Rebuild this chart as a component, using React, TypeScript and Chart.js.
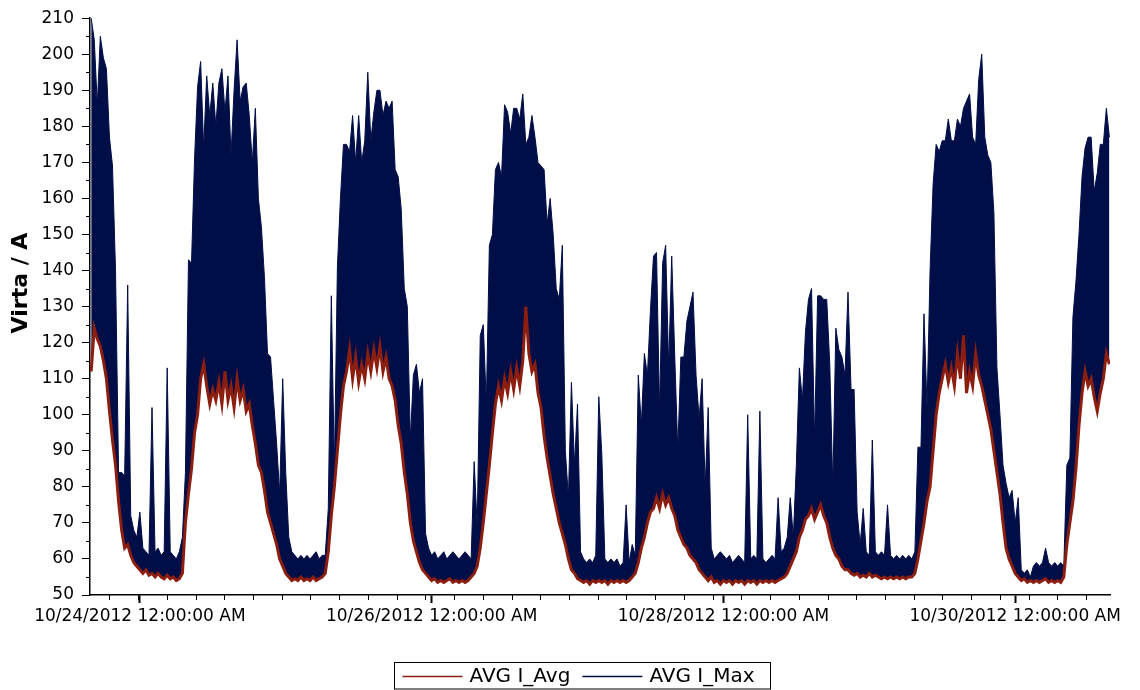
import React, { useEffect, useRef } from "react";
import { Chart, registerables } from "chart.js";

Chart.register(...registerables);

// ---- data (hours since 10/24/2012 00:00, sampled every 30 min) ----
const START_HOUR = -8;
const STEP_HOURS = 0.5;

const seriesLabels = ["AVG I_Avg", "AVG I_Max"];

const maxValues: number[] = [
  210, 204, 186, 205, 199, 196, 177, 169, 140, 84,
  84, 83, 136, 72, 68, 66, 73, 63, 62, 61,
  102, 62, 63, 61, 62, 113, 62, 61, 60, 62,
  66, 84, 143, 142, 171, 191, 198, 174, 194, 183,
  192, 180, 192, 196, 184, 194, 172, 190, 204, 187,
  191, 192, 183, 170, 185, 160, 152, 138, 117, 116,
  104, 92, 78, 110, 84, 66, 62, 61, 60, 61,
  60, 61, 60, 61, 62, 60, 61, 61, 74, 133,
  85, 141, 160, 175, 175, 173, 183, 170, 183, 170,
  176, 195, 176, 184, 190, 190, 183, 187, 185, 187,
  168, 166, 157, 135, 130, 93, 111, 114, 106, 110,
  67, 63, 61, 62, 60, 61, 62, 60, 61, 62,
  61, 60, 61, 62, 61, 60, 87, 69, 122, 125,
  103, 147, 150, 168, 170, 166, 186, 184, 178, 185,
  185, 182, 189, 175, 177, 183, 177, 170, 169, 168,
  153, 160, 150, 135, 132, 147, 90, 77, 109, 86,
  103, 62, 60, 59, 60, 59, 61, 105, 89, 60,
  59, 60, 59, 60, 58, 59, 75, 59, 64, 61,
  111, 97, 117, 111, 129, 144, 145, 101, 142, 147,
  113, 144, 116, 90, 116, 116, 126, 130, 134, 111,
  99, 110, 80, 102, 63, 60, 61, 62, 61, 60,
  61, 59, 60, 61, 60, 59, 100, 60, 61, 60,
  101, 60, 59, 60, 61, 60, 77, 62, 63, 66,
  77, 66, 86, 113, 104, 123, 132, 135, 93, 133,
  133, 132, 132, 114, 80, 124, 118, 116, 111, 134,
  107, 107, 73, 64, 74, 62, 61, 93, 62, 61,
  62, 61, 75, 61, 60, 61, 60, 61, 60, 61,
  60, 62, 91, 91, 128, 102, 140, 164, 175, 173,
  176, 176, 182, 176, 176, 182, 180, 185, 187, 189,
  177, 175, 193, 200, 177, 172, 170, 156, 113, 100,
  86, 81, 77, 79, 70, 77, 57, 56, 57, 55,
  58, 59, 58, 59, 63, 59, 58, 59, 58, 59,
  58, 86, 88, 127, 137, 150, 166, 174, 177, 177,
  162, 167, 175, 175, 185, 177,
];

const avgValues: number[] = [
  112, 124, 121, 119, 115, 110, 101, 93, 86, 76,
  68, 63, 64, 61, 59, 58, 57, 56, 57, 55.5,
  56, 55, 56, 55, 54.5, 55.5, 54.5, 55, 54, 54.5,
  56, 70, 78, 85, 95, 100, 110, 114, 108, 103,
  107, 104, 109, 103, 112, 104, 108, 102, 110, 104,
  107, 101, 103, 97, 92, 86, 84, 79, 73, 70,
  67, 64, 60, 58, 56, 55, 54, 54.5, 54, 55,
  54, 54.5, 54, 55, 54, 54.5, 55, 56, 62, 72,
  80, 90, 100, 108, 112, 118, 110, 116, 109, 114,
  110, 117, 112, 118, 113, 119, 112, 116, 110, 108,
  104, 97, 92, 84, 78, 70, 65, 62, 59, 57,
  56, 55, 54, 54.5, 53.5, 54, 53.5, 54, 54.5, 53.5,
  54, 53.5, 54, 53.5, 54, 55, 56, 58, 63, 70,
  78, 86, 95, 103, 108, 104, 110, 106, 112, 107,
  113, 108, 115, 130, 117, 112, 114, 106, 102, 94,
  88, 83, 78, 74, 70, 67, 64, 60, 57, 56,
  54.5, 54, 53.5, 54, 53, 54, 53.5, 54, 53.5, 54,
  53, 54, 53.5, 54, 53.5, 54, 53.5, 54, 55, 56,
  59, 63, 66, 70, 73, 74, 77, 74, 78, 75,
  77, 74, 72, 68, 66, 64, 63, 61, 60, 59,
  57, 56, 55, 54, 55, 53.5, 54, 53, 54, 53.5,
  54, 53, 54, 53.5, 54, 53, 54, 53.5, 54, 53,
  54, 53.5, 54, 53.5, 54, 53.5, 54, 54.5, 55, 56,
  58, 60, 62, 66, 68, 71, 72, 74, 71, 73,
  75, 72, 70, 66, 63, 61, 60, 58, 57, 57,
  56, 55.5, 56, 55, 55.5, 55, 56, 55, 55.5, 55,
  54.5, 55, 54.5, 55, 54.5, 55, 54.5, 55, 54.5, 55,
  55, 56, 60, 65, 70, 76, 80, 90, 100, 106,
  110, 114, 109, 113, 108, 117, 110, 122, 106, 112,
  108, 117, 111, 108, 104, 100, 96, 90, 84, 78,
  70, 63, 60, 58, 56, 55, 54, 54.5, 53.5, 54,
  53.5, 54, 53.5, 54, 54.5, 53.5, 54, 53.5, 54, 53.5,
  55, 64, 70, 76, 85, 97, 106, 112, 108, 110,
  105, 101, 106, 110, 117, 114,
];

const xTickHours = [0, 48, 96, 144];
const xTickLabels = [
  "10/24/2012 12:00:00 AM",
  "10/26/2012 12:00:00 AM",
  "10/28/2012 12:00:00 AM",
  "10/30/2012 12:00:00 AM",
];
const yTitle = "Virta / A";

// ---- style ----
const NAVY = "#000E48";
const RED = "#8C1E10";
const AXIS = "#000000";
const FONT = '"DejaVu Sans", Verdana, sans-serif';
const X_MIN = -8.2;
const X_MAX = 159.6;
const Y_MIN = 50;
const Y_MAX = 210;
const X_MINOR_START = -0.29;
const X_MINOR_STEP = 4.726;

const toPoints = (vals: number[]) =>
  vals.map((v, i) => ({ x: START_HOUR + i * STEP_HOURS, y: v }));

const decorPlugin = {
  id: "decor",
  afterDraw(chart: any) {
    const ctx = chart.ctx as CanvasRenderingContext2D;
    const xs = chart.scales.x;
    const ys = chart.scales.y;
    const area = chart.chartArea;
    ctx.save();
    ctx.strokeStyle = AXIS;
    ctx.lineWidth = 1;
    // y minor ticks
    for (let v = Y_MIN + 5; v < Y_MAX; v += 10) {
      const py = Math.round(ys.getPixelForValue(v)) + 0.5;
      ctx.beginPath();
      ctx.moveTo(area.left - 4, py);
      ctx.lineTo(area.left, py);
      ctx.stroke();
    }
    // x minor ticks
    for (let k = -2; k < 60; k++) {
      const h = X_MINOR_START + k * X_MINOR_STEP;
      if (h < X_MIN || h > X_MAX) continue;
      const px = Math.round(xs.getPixelForValue(h)) + 0.5;
      ctx.beginPath();
      ctx.moveTo(px, area.bottom);
      ctx.lineTo(px, area.bottom + 5);
      ctx.stroke();
    }
    // y axis title
    ctx.save();
    ctx.translate(21, 283);
    ctx.rotate(-Math.PI / 2);
    ctx.font = `bold 22px ${FONT}`;
    ctx.fillStyle = "#000";
    ctx.textAlign = "center";
    ctx.textBaseline = "middle";
    ctx.fillText(yTitle, 0, 0);
    ctx.restore();

    // legend
    const ds = chart.data.datasets;
    ctx.font = `20px ${FONT}`;
    ctx.textBaseline = "middle";
    ctx.textAlign = "left";
    const ly = 676;
    const lineLen = 60;
    const boxLeft = 394.5;
    ctx.strokeStyle = "#000";
    ctx.lineWidth = 1;
    ctx.strokeRect(boxLeft, 662.5, 376, 26.5);
    let cx = boxLeft + 8;
    ds.forEach((d: any) => {
      const w = ctx.measureText(d.label).width;
      ctx.strokeStyle = d.borderColor;
      ctx.lineWidth = 1.5;
      ctx.beginPath();
      ctx.moveTo(cx, ly + 0.5);
      ctx.lineTo(cx + lineLen, ly + 0.5);
      ctx.stroke();
      ctx.fillStyle = "#000";
      ctx.fillText(d.label, cx + lineLen + 7, ly + 1);
      cx += lineLen + 7 + w + 12;
    });
    ctx.restore();
  },
};

export default function App() {
  const ref = useRef<HTMLCanvasElement | null>(null);
  useEffect(() => {
    if (!ref.current) return;
    const chart = new Chart(ref.current, {
      type: "line",
      data: {
        datasets: [
          {
            label: seriesLabels[0],
            data: toPoints(avgValues),
            borderColor: RED,
            backgroundColor: RED,
            borderWidth: 3,
            pointRadius: 0,
            tension: 0,
            fill: false,
          },
          {
            label: seriesLabels[1],
            data: toPoints(maxValues),
            borderColor: NAVY,
            backgroundColor: NAVY,
            borderWidth: 1,
            pointRadius: 0,
            tension: 0,
            fill: "-1",
          },
        ],
      },
      options: {
        responsive: false,
        animation: false,
        devicePixelRatio: 1,
        layout: { padding: { top: 14, right: 30, bottom: 0, left: 0 } },
        plugins: {
          legend: { display: false },
          tooltip: { enabled: false },
          title: { display: false },
        },
        scales: {
          x: {
            type: "linear",
            min: X_MIN,
            max: X_MAX,
            afterBuildTicks: (scale: any) => {
              scale.ticks = xTickHours.map((v) => ({ value: v }));
            },
            afterFit: (scale: any) => {
              scale.height = 95;
            },
            ticks: {
              autoSkip: false,
              maxRotation: 0,
              minRotation: 0,
              padding: 3,
              color: "#000",
              font: { family: FONT, size: 17 },
              callback: (value: any) => {
                const idx = xTickHours.indexOf(Number(value));
                return idx >= 0 ? xTickLabels[idx] : "";
              },
            },
            grid: {
              drawOnChartArea: false,
              drawTicks: true,
              tickLength: 8,
              tickWidth: 2,
              tickColor: AXIS,
            },
            border: { display: true, color: AXIS, width: 1.5 },
          },
          y: {
            min: Y_MIN,
            max: Y_MAX,
            afterFit: (scale: any) => {
              scale.width = 90;
            },
            ticks: {
              stepSize: 10,
              padding: 8,
              color: "#000",
              font: { family: FONT, size: 17 },
            },
            grid: {
              drawOnChartArea: false,
              drawTicks: true,
              tickLength: 8,
              tickWidth: 1,
              tickColor: AXIS,
            },
            border: { display: true, color: AXIS, width: 1.5 },
          },
        },
      },
      plugins: [decorPlugin],
    });
    return () => chart.destroy();
  }, []);
  return (
    <div style={{ position: "fixed", left: 0, top: 0, width: 1140, height: 690, background: "#fff" }}>
      <canvas ref={ref} width={1140} height={690} style={{ display: "block", width: 1140, height: 690 }} />
    </div>
  );
}
